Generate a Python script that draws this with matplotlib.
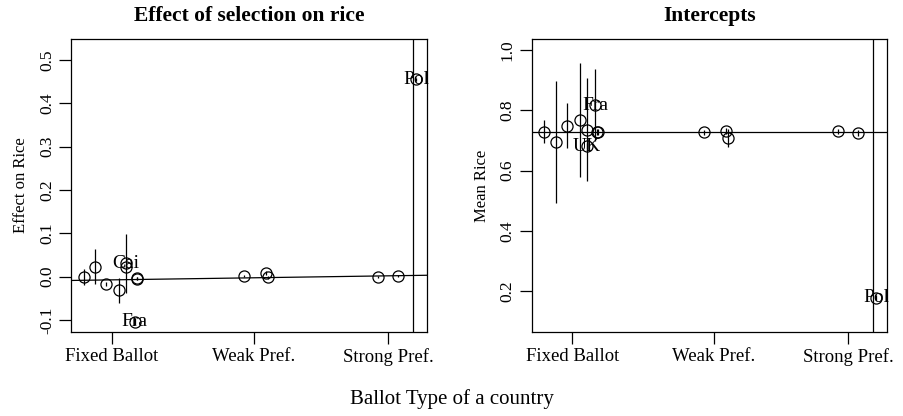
import numpy as np
import matplotlib
matplotlib.use('Agg')
import matplotlib.pyplot as plt

plt.rcParams['font.family'] = ['Liberation Serif', 'DejaVu Serif']

# jittered ballot-type position of each country (1 = fixed, 2 = weak, 3 = strong)
ballot_pos = [0.80, 0.88, 0.96, 1.05, 1.10, 1.10, 1.16, 1.175, 1.18,
              1.93, 2.09, 2.10, 2.88, 3.02, 3.15]

effect = [-0.001, 0.023, -0.017, -0.032, 0.031, 0.023, -0.104, -0.004, -0.005,
          0.0015, 0.008, -0.002, -0.001, 0.0015, 0.455]
effect_se = [0.018, 0.040, 0.004, 0.028, 0.068, 0.004, 0.008, 0.004, 0.004,
             0.003, 0.004, 0.004, 0.003, 0.003, 0.003]
effect_lab = ['', '', '', '', 'Cai', '', 'Fra', '', '',
              '', '', '', '', '', 'Pol']

intercept = [0.728, 0.695, 0.749, 0.767, 0.736, 0.680, 0.817, 0.727, 0.728,
             0.727, 0.730, 0.709, 0.730, 0.725, 0.178]
intercept_se = [0.038, 0.202, 0.075, 0.189, 0.171, 0.010, 0.120, 0.010, 0.010,
                0.008, 0.010, 0.030, 0.008, 0.010, 0.008]
intercept_lab = ['', '', '', '', '', 'UK', 'Fra', '', '',
                 '', '', '', '', '', 'Pol']

# reference lines
effect_fit = (-0.0124, 0.00477)
intercept_fit = (0.727, 0.0)
cut_pos = 3.13

tick_pos = [1, 2, 2.953]
tick_lab = ['Fixed Ballot', 'Weak Pref.', 'Strong Pref.']

fig = plt.figure(figsize=(9.04, 4.16), dpi=100)
ax1 = fig.add_axes([0.0785, 0.2019, 0.394, 0.704])
ax2 = fig.add_axes([0.588, 0.2019, 0.393, 0.704])

fs = 12.5


def panel(ax, y, se, labs, fit, title, ylab, ylim, yticks):
    ax.errorbar(ballot_pos, y, yerr=se, fmt='none', ecolor='black',
                elinewidth=0.9, capsize=0)
    ax.plot(ballot_pos, y, 'o', mfc='none', mec='black', ms=8, mew=0.9)
    for xp, yp, lb in zip(ballot_pos, y, labs):
        if lb:
            ax.text(xp, yp, lb, ha='center', va='center', fontsize=14)
    ax.axline((0, fit[0]), slope=fit[1], color='black', lw=0.9)
    ax.axvline(cut_pos, color='black', lw=0.9)
    ax.set_xlim(0.71, 3.227)
    ax.set_ylim(*ylim)
    ax.set_xticks(tick_pos)
    ax.set_xticklabels(tick_lab, fontsize=13.5)
    ax.set_yticks(yticks)
    ax.set_yticklabels(['%.1f' % v for v in yticks], fontsize=fs,
                       rotation=90, va='center')
    ax.tick_params(length=8.5, width=0.9, pad=3)
    for s in ax.spines.values():
        s.set_linewidth(0.9)
    ax.set_title(title, fontsize=15.5, fontweight='bold', pad=13)
    ax.set_ylabel(ylab, fontsize=fs - 0.5, labelpad=7)


panel(ax1, effect, effect_se, effect_lab, effect_fit,
      'Effect of selection on rice', 'Effect on Rice',
      (-0.128, 0.548), np.round(np.arange(-0.1, 0.51, 0.1), 1))
panel(ax2, intercept, intercept_se, intercept_lab, intercept_fit,
      'Intercepts', 'Mean Rice', (0.064, 1.036),
      np.round(np.arange(0.2, 1.01, 0.2), 1))

fig.text(0.5, 0.04, 'Ballot Type of a country', ha='center', va='center',
         fontsize=15)

fig.savefig('out.png', dpi=100)
